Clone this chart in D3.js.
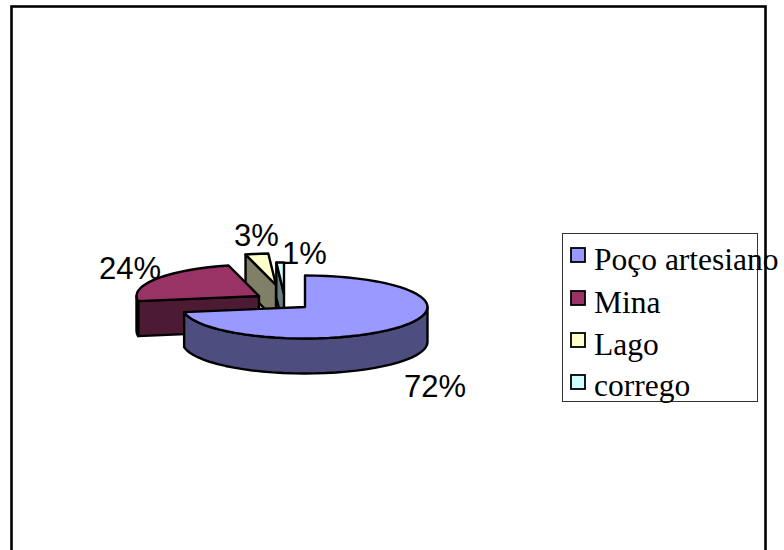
<!DOCTYPE html>
<html><head><meta charset="utf-8">
<script src="https://cdnjs.cloudflare.com/ajax/libs/d3/7.8.5/d3.min.js"></script>
<style>html,body{margin:0;padding:0;background:#fff;overflow:hidden}svg{display:block}</style>
</head><body><svg id="c" width="784" height="550"></svg>
<script>
const categories = ["Poço artesiano", "Mina", "Lago", "corrego"];
const values = [72.4, 23.6, 3, 1];
const pctLabels = ["72%", "24%", "3%", "1%"];
const topColors = ["#9999FF", "#993366", "#FFFFCC", "#CCFFFF"];
const sideColors = ["#4D4D80", "#4D1A33", "#808066", "#668080"];

const layout = {
  cx: 305, cy: 307, rx: 122.5, ry: 31.5, depth: 35,
  explode: [[0,0],[-46,-11],[-29,-22],[-21,-13]],
  labels: [[404,397],[99,279],[234,246],[282,264]],
  legend: {x:562,y:233,w:195,h:168,sx:571,sy:[248,291,333,375],tx:594,ty:[270,313,355,396]}
};

const svg = d3.select("#c");
svg.append("rect").attr("x",11.5).attr("y",6.5).attr("width",754).attr("height",570)
  .attr("fill","#fff").attr("stroke","#000").attr("stroke-width",2.6);

const pie = d3.pie().sort(null).startAngle(0).endAngle(2*Math.PI);
const arcs = pie(values);
const line = d3.line();
function pt(i,a,dz=0){
  const [dx,dy]=layout.explode[i];
  return [layout.cx+dx+layout.rx*Math.sin(a), layout.cy+dy-layout.ry*Math.cos(a)+dz];
}
function apex(i,dz=0){const [dx,dy]=layout.explode[i];return [layout.cx+dx,layout.cy+dy+dz];}
function samples(a0,a1){
  const n=Math.max(2,Math.ceil((a1-a0)/0.09));
  return d3.range(n+1).map(k=>a0+(a1-a0)*k/n);
}
const order=[2,3,1,0];
const sw=2.4;
order.forEach(i=>{
  const d=arcs[i], g=svg.append("g");
  if(i>0){
    g.append("path").attr("d",line([pt(i,d.startAngle),apex(i),apex(i,layout.depth),pt(i,d.startAngle,layout.depth)])+"Z")
     .attr("fill",sideColors[i]).attr("stroke","#000").attr("stroke-width",sw).attr("stroke-linejoin","round");
  }
  const a0=Math.max(d.startAngle,Math.PI/2), a1=Math.min(d.endAngle,3*Math.PI/2);
  if(a1>a0){
    const s=samples(a0,a1);
    const top=s.map(a=>pt(i,a)), bot=s.map(a=>pt(i,a,layout.depth)).reverse();
    g.append("path").attr("d",line(top.concat(bot))+"Z")
     .attr("fill",sideColors[i]).attr("stroke","#000").attr("stroke-width",sw).attr("stroke-linejoin","round");
  }
  const rim=samples(d.startAngle,d.endAngle).map(a=>pt(i,a));
  g.append("path").attr("d",line([apex(i)].concat(rim))+"Z")
   .attr("fill",topColors[i]).attr("stroke","#000").attr("stroke-width",sw).attr("stroke-linejoin","round");
});

svg.append("g").selectAll("text").data(pctLabels).join("text")
  .attr("x",(d,i)=>layout.labels[i][0]).attr("y",(d,i)=>layout.labels[i][1])
  .attr("font-family","'Liberation Sans',Arial,sans-serif").attr("font-size",31).attr("fill","#000")
  .text(d=>d);

const L=layout.legend;
svg.append("rect").attr("x",L.x+.5).attr("y",L.y+.5).attr("width",L.w).attr("height",L.h)
  .attr("fill","none").attr("stroke","#333").attr("stroke-width",1);
const lg=svg.append("g").selectAll("g").data(categories).join("g");
lg.append("rect").attr("x",L.sx).attr("y",(d,i)=>L.sy[i]).attr("width",14).attr("height",14)
  .attr("fill",(d,i)=>topColors[i]).attr("stroke","#000").attr("stroke-width",1.8);
lg.append("text").attr("x",L.tx).attr("y",(d,i)=>L.ty[i])
  .attr("font-family","'Liberation Serif','Times New Roman',serif").attr("font-size",31.5).attr("fill","#000")
  .text(d=>d);
</script></body></html>
